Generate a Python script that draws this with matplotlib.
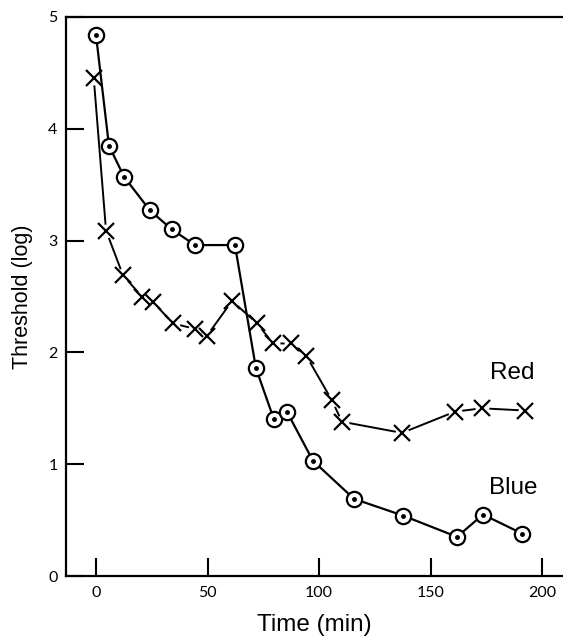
import matplotlib
matplotlib.use("Agg")
import matplotlib.pyplot as plt

blue_time = [0, 5.8, 12.6, 24.2, 34, 44.4, 62.3, 71.7, 79.8, 85.6, 97.3, 115.7, 137.7, 161.9, 173.5, 191]
blue_thr = [4.84, 3.85, 3.57, 3.27, 3.10, 2.96, 2.96, 1.86, 1.40, 1.47, 1.03, 0.69, 0.54, 0.35, 0.55, 0.38]

red_time = [-1, 4.5, 12.1, 20.6, 25.6, 34.5, 44.4, 49.8, 61, 72.2, 79.4, 87.4, 94.3, 105.8, 110.3, 137.2, 161, 173, 192.4]
red_thr = [4.45, 3.09, 2.69, 2.50, 2.45, 2.26, 2.21, 2.15, 2.46, 2.26, 2.08, 2.08, 1.97, 1.57, 1.38, 1.28, 1.47, 1.50, 1.48]

x_ticks = [0, 50, 100, 150, 200]
y_ticks = [0, 1, 2, 3, 4, 5]

fig = plt.figure(figsize=(5.63, 6.37), dpi=100)
ax = fig.add_axes([66/563, 61/637, 1 - 66/563, (576-17)/637])

# Red series: line broken around markers
ax.plot(red_time, red_thr, color='black', lw=1.4, zorder=2)
ax.plot(red_time, red_thr, ls='none', marker='o', ms=10, mfc='white', mec='none', zorder=3)
ax.plot(red_time, red_thr, ls='none', marker='x', ms=12, mew=1.6, color='black', zorder=4)

# Blue series
ax.plot(blue_time, blue_thr, color='black', lw=1.6, zorder=5,
        marker='o', ms=11, mfc='white', mec='black', mew=1.6)
ax.plot(blue_time, blue_thr, ls='none', marker='o', ms=2.5, color='black', zorder=6)

ax.set_xlim(-13.45, 209.4)
ax.set_ylim(0, 5)
ax.set_xticks(x_ticks)
ax.set_yticks(y_ticks)
tickfont = 'Lato'
ax.set_xticklabels([str(t) for t in x_ticks], fontfamily=tickfont, fontsize=11.5)
ax.set_yticklabels([str(t) for t in y_ticks], fontfamily=tickfont, fontsize=11.5)
ax.tick_params(axis='both', direction='in', length=13, width=1.5, pad=6, colors='black')
ax.tick_params(axis='x', pad=7)

for s in ['left', 'top', 'bottom']:
    ax.spines[s].set_linewidth(1.6)
ax.spines['right'].set_visible(False)

ax.set_xlabel('Time (min)', fontfamily='Liberation Sans', fontsize=17.5, labelpad=10)
ax.set_ylabel('Threshold (log)', fontfamily='Liberation Sans', fontsize=15.5, labelpad=11)

ax.text(176.7, 1.82, 'Red', fontfamily='Liberation Sans', fontsize=17.5, ha='left', va='center')
ax.text(176.2, 0.79, 'Blue', fontfamily='Liberation Sans', fontsize=17.5, ha='left', va='center')

fig.savefig('out.png', dpi=100)
